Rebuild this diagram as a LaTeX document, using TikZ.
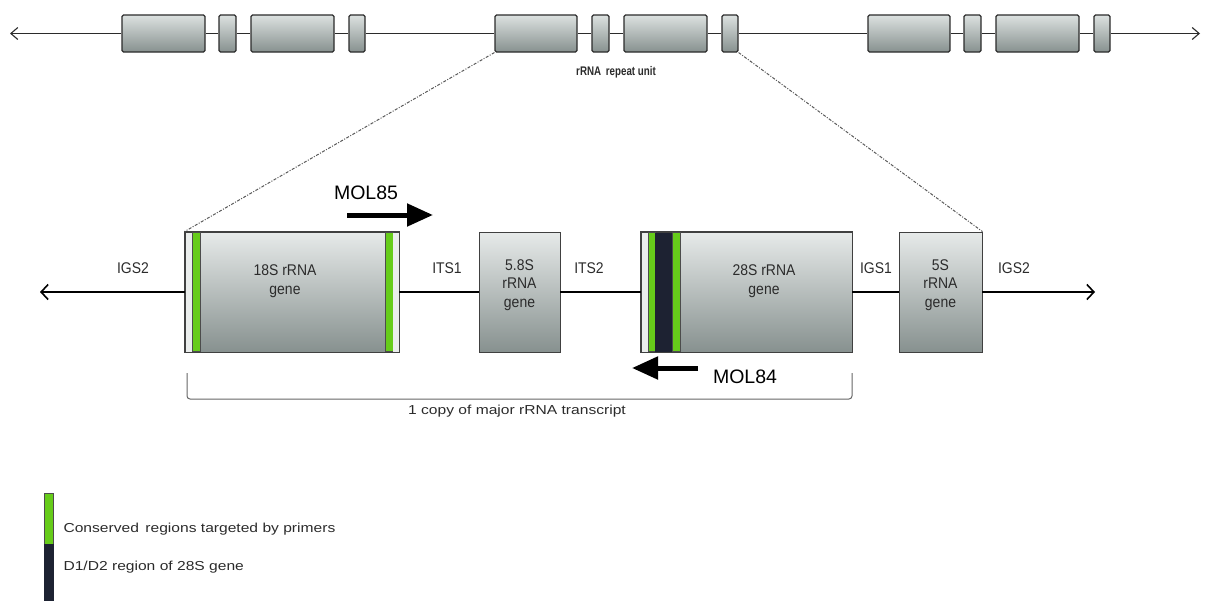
\documentclass[tikz,border=0pt]{standalone}
\usepackage{fontspec}
\setmainfont{Liberation Sans}
\newfontfamily\wideF[FakeStretch=1.2]{Liberation Sans}
\newfontfamily\condF[FakeStretch=0.78]{Liberation Sans}
\newfontfamily\boxF[FakeStretch=0.9]{Liberation Sans}
\usetikzlibrary{arrows.meta}
\definecolor{gtop}{HTML}{DCE1E0}
\definecolor{gbot}{HTML}{87918F}
\definecolor{prim}{HTML}{66CC1A}
\definecolor{dd}{HTML}{1D2232}
\definecolor{ink}{HTML}{2B2B2B}
\begin{document}
\begin{tikzpicture}[x=1pt,y=-1pt,
  gbox/.style={draw=ink, line width=1.1pt, rounded corners=1.5pt, top color=gtop, bottom color=gbot, inner sep=0pt, minimum height=37pt},
  mbox/.style={draw=black!75, line width=0.9pt, top color=gtop!70!white, bottom color=gbot, inner sep=0pt, minimum height=120pt},
  thinline/.style={draw=ink, line width=1.1pt},
  dnaline/.style={draw=black, line width=1.6pt},
  boxtxt/.style={font=\boxF\fontsize{15.5}{18.5}\selectfont, text=ink, align=center},
  lbl/.style={font=\boxF\fontsize{15.5}{18}\selectfont, text=ink},
  primer/.style={line width=5pt, -{Triangle[length=26pt,width=22pt]}},
  zoomline/.style={draw=black!65, line width=1pt, dash pattern=on 3pt off 1.5pt on 1pt off 1.5pt},
  legtxt/.style={font=\wideF\fontsize{13}{15}\selectfont, text=ink, anchor=west},
]
\useasboundingbox (0,0) rectangle (1208,600);

% ---- top row: repeat units
\foreach \n/\cx/\w in {t1/163.5/83, t2/227.5/17, t3/292.5/83, t4/357/16,
                        t5/536/82, t6/600.5/17, t7/665.5/83, t8/730/16,
                        t9/909/82, t10/972.5/17, t11/1037.5/83, t12/1102/16}
  \node[gbox, minimum width=\w pt] (\n) at (\cx,33.5) {};
\coordinate (tl) at (10,33.5);
\coordinate (tr) at (1200,33.5);
\draw[thinline, -{Straight Barb[length=7pt,width=12pt]}] (t1) -- (tl);
\draw[thinline, -{Straight Barb[length=7pt,width=12pt]}] (t12) -- (tr);
\foreach \a/\b in {t1/t2, t2/t3, t3/t4, t4/t5, t5/t6, t6/t7, t7/t8, t8/t9, t9/t10, t10/t11, t11/t12}
  \draw[thinline] (\a) -- (\b);
\node[font=\condF\bfseries\fontsize{12.5}{14}\selectfont, text=ink] (rep) at (616,72) {rRNA\, repeat unit};

% ---- middle: one repeat unit
\node[mbox, minimum width=214pt] (b18) at (292,292) {};
\node[mbox, minimum width=81pt] (b58) at (519.5,292) {};
\node[mbox, minimum width=211pt] (b28) at (746.5,292) {};
\node[mbox, minimum width=83pt] (b5) at (940.5,292) {};

% bars in 18S
\fill[gtop!60!white] (185.5,232.5) rectangle (192,351.5);
\filldraw[fill=prim, draw=black!70, line width=0.6pt] (192,232.5) rectangle (200,351.5);
\filldraw[fill=prim, draw=black!70, line width=0.6pt] (385,232.5) rectangle (393,351.5);
\fill[gtop!60!white] (393,232.5) rectangle (398.5,351.5);
% bars in 28S
\fill[gtop!60!white] (641.5,232.5) rectangle (648,351.5);
\filldraw[fill=prim, draw=black!70, line width=0.6pt] (648,232.5) rectangle (655,351.5);
\fill[dd] (655,232.5) rectangle (672,351.5);
\filldraw[fill=prim, draw=black!70, line width=0.6pt] (672,232.5) rectangle (680,351.5);
\draw[draw=black!75, line width=0.9pt] (b18.north west) rectangle (b18.south east);
\draw[draw=black!75, line width=0.9pt] (b28.north west) rectangle (b28.south east);

\node[boxtxt] (l18) at (285,281) {18S rRNA\\gene};
\node[boxtxt] (l58) at (519.5,285) {5.8S\\rRNA\\gene};
\node[boxtxt] (l28) at (764,281) {28S rRNA\\gene};
\node[boxtxt] (l5) at (940.5,285) {5S\\rRNA\\gene};

% DNA line
\coordinate (ml) at (40,292);
\coordinate (mr) at (1095,292);
\draw[dnaline, -{Straight Barb[length=7pt,width=15pt]}] (b18) -- (ml);
\draw[dnaline] (b18) -- (b58);
\draw[dnaline] (b58) -- (b28);
\draw[dnaline] (b28) -- (b5);
\draw[dnaline, -{Straight Barb[length=7pt,width=15pt]}] (b5) -- (mr);

\node[lbl] (igs2a) at (133,268) {IGS2};
\node[lbl] (its1) at (447,268) {ITS1};
\node[lbl] (its2) at (589,268) {ITS2};
\node[lbl] (igs1) at (876,268) {IGS1};
\node[lbl] (igs2b) at (1014,268) {IGS2};

% zoom lines
\draw[zoomline] (t5.south west) -- (b18.north west);
\draw[zoomline] (t8.south east) -- (b5.north east);

% primers
\node[font=\fontsize{19.5}{22}\selectfont] (m85) at (366,193) {MOL85};
\coordinate (p85s) at (347,215);
\coordinate (p85e) at (433,215);
\draw[primer] (p85s) -- (p85e);
\node[font=\fontsize{19.5}{22}\selectfont] (m84) at (745,377) {MOL84};
\coordinate (p84s) at (698,368);
\coordinate (p84e) at (632,368);
\draw[primer] (p84s) -- (p84e);

% bracket
\coordinate (brl) at (187,373);
\coordinate (brr) at (852,373);
\draw[draw=black!60, line width=1pt, rounded corners=3pt] (brl) -- (187,399) -- (852,399) -- (brr);
\node[font=\wideF\fontsize{13}{15}\selectfont, text=ink] (copy) at (517,411) {1 copy of major rRNA transcript};

% legend
\filldraw[fill=prim, draw=black!70, line width=0.6pt] (44,493) rectangle (53,544);
\filldraw[fill=dd, draw=dd, line width=0.6pt] (44,544) rectangle (53,601);
\node[legtxt] (lg1) at (60,529) {Conserved\, regions targeted by primers};
\node[legtxt] (lg2) at (60,567) {D1/D2 region of 28S gene};
\end{tikzpicture}
\end{document}
